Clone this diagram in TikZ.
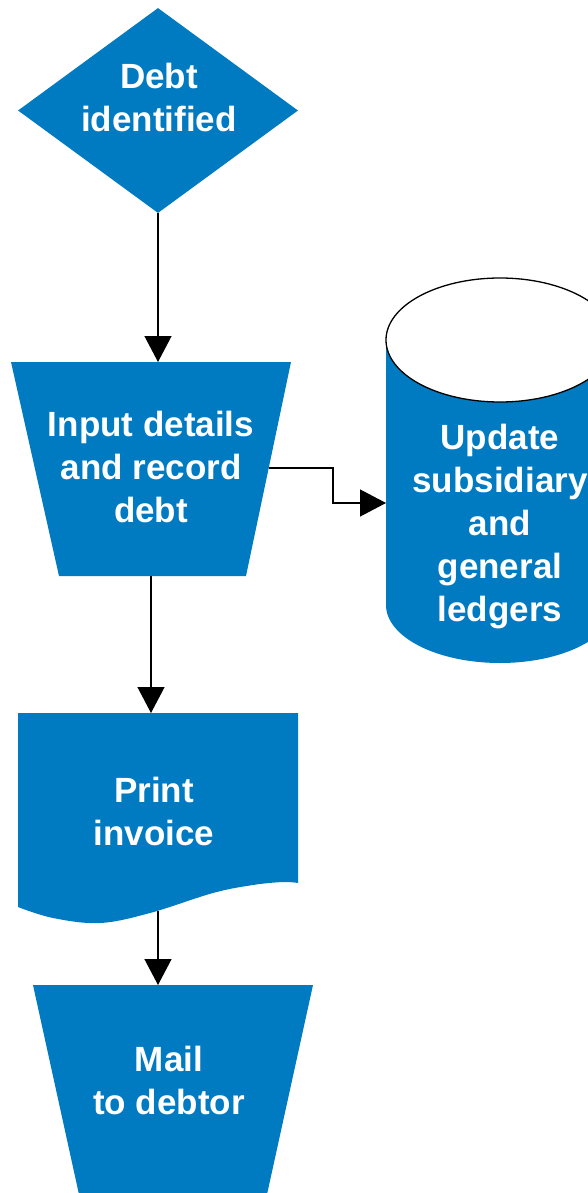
\documentclass[tikz,border=0pt]{standalone}
\usepackage{fontspec}
\setmainfont{Liberation Sans}
\usetikzlibrary{shapes.geometric,arrows.meta}
\definecolor{flowblue}{RGB}{0,123,193}
\begin{document}
\begin{tikzpicture}[x=1pt,y=-1pt,
  lbl/.style={text=white,font=\fontsize{35}{43}\selectfont\bfseries,align=center,inner sep=0pt},
  conn/.style={line width=1.3pt,-{Triangle[length=26pt,width=27pt]}},
  wire/.style={line width=1.3pt}]
\useasboundingbox (0,0) rectangle (588,1193);
\clip (0,0) rectangle (588,1193);
% decision
\node[diamond,fill=flowblue,minimum width=280pt,minimum height=205pt,inner sep=0pt] (dia) at (158,110.5) {};
% input trapezium
\fill[flowblue] (11,362) -- (291,362) -- (246,576) -- (59,576) -- cycle;
\coordinate (inpN) at (158,362);
\coordinate (inpS) at (151,576);
\coordinate (inpE) at (268.7,468);
% cylinder
\fill[flowblue] (386,340) -- (386,605) arc[start angle=180,end angle=360,x radius=114pt,y radius=58pt] -- (614,340) -- cycle;
\draw[line width=1.3pt,fill=white] (500,340) ellipse [x radius=114pt,y radius=62pt];
\coordinate (ledW) at (386,503);
% document
\fill[flowblue] (18,713) -- (298,713) -- (298,883) -- plot[smooth,tension=0.6] coordinates {(298,883) (283,882) (253,885) (213,893) (150,913) (100,923) (53,918) (18,907)} -- cycle;
\coordinate (docN) at (151,713);
\coordinate (docS) at (158,911);
% mail trapezium
\fill[flowblue] (33,985) -- (313,985) -- (266,1199) -- (80,1199) -- cycle;
\coordinate (mailN) at (158,985);
% labels
\node[lbl] (debt) at (159,97) {Debt\\identified};
\node[lbl] (input) at (151,467) {Input details\\and record\\debt};
\node[lbl] (ledger) at (500,526.5) {Update\\subsidiary\\and\\general\\ledgers};
\node[lbl] (print) at (154,811.5) {Print\\invoice};
\node[lbl] (mail) at (169,1080) {Mail\\to debtor};
% connectors
\draw[conn] (dia.south) -- (inpN);
\draw[conn] (inpS) -- (docN);
\draw[conn] (docS) -- (mailN);
\coordinate (bend) at (333,468);
\draw[conn] (inpE) -- (bend) |- (ledW);
\end{tikzpicture}
\end{document}
